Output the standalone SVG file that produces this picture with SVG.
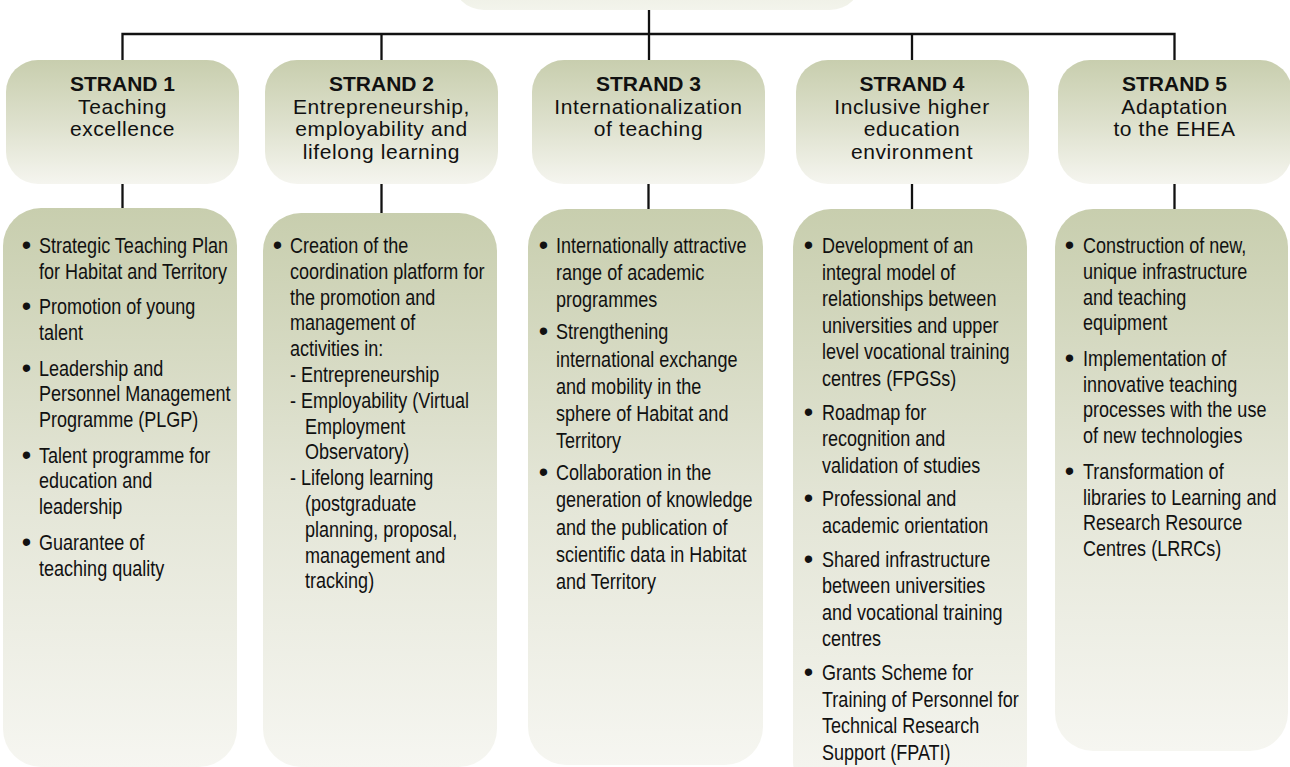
<svg xmlns="http://www.w3.org/2000/svg" width="1290" height="767" viewBox="0 0 1290 767">
<defs>
<linearGradient id="gh" x1="0" y1="0" x2="0" y2="1">
<stop offset="0" stop-color="#c8ceae"/>
<stop offset="0.5" stop-color="#dde0cc"/>
<stop offset="1" stop-color="#f5f5ef"/>
</linearGradient>
<linearGradient id="gd" x1="0" y1="0" x2="0" y2="1">
<stop offset="0" stop-color="#c8ceae"/>
<stop offset="0.5" stop-color="#e3e5d6"/>
<stop offset="1" stop-color="#f6f6f1"/>
</linearGradient>
<linearGradient id="gt" x1="0" y1="0" x2="0" y2="1">
<stop offset="0" stop-color="#dfe2d0"/>
<stop offset="1" stop-color="#f3f4ec"/>
</linearGradient>
</defs>
<style>
.hb{fill:url(#gh)}
.db{fill:url(#gd)}
.ln{stroke:#111;stroke-width:2.3;fill:none}
.h{font-family:"Liberation Sans",Arial,sans-serif;font-size:21px;fill:#111;text-anchor:middle;letter-spacing:0.6px}
.hs{font-family:"Liberation Sans",Arial,sans-serif;font-size:21px;font-weight:bold;fill:#111;text-anchor:middle}
.d{font-family:"Liberation Sans",Arial,sans-serif;font-size:22px;fill:#111}
.b{font-family:"Liberation Sans",Arial,sans-serif;font-size:27px;fill:#111;text-anchor:middle}
</style>
<rect width="1290" height="767" fill="#ffffff"/>
<g id="root"><rect x="452" y="-60" width="410" height="70" rx="32" fill="url(#gt)"/></g>
<g id="connectors">
<path class="ln" d="M649,10V60M122.5,60V34H1174.5V60M381.5,34V60M912,34V60"/>
<path class="ln" d="M122.5,184V209M381.5,184V213M648.5,184V209M912,184V209M1174.5,184V209"/>
</g>
<g id="strand1">
<rect class="hb" x="6" y="60" width="233" height="124" rx="32"/>
<text class="hs" x="122.5" y="91">STRAND 1</text>
<text class="h" x="122.5" y="113.5">Teaching</text>
<text class="h" x="122.5" y="136">excellence</text>
</g>
<g id="strand2">
<rect class="hb" x="265" y="60" width="233" height="124" rx="32"/>
<text class="hs" x="381.5" y="91">STRAND 2</text>
<text class="h" x="381.5" y="113.5">Entrepreneurship,</text>
<text class="h" x="381.5" y="136">employability and</text>
<text class="h" x="381.5" y="158.5">lifelong learning</text>
</g>
<g id="strand3">
<rect class="hb" x="532" y="60" width="233" height="124" rx="32"/>
<text class="hs" x="648.5" y="91">STRAND 3</text>
<text class="h" x="648.5" y="113.5">Internationalization</text>
<text class="h" x="648.5" y="136">of teaching</text>
</g>
<g id="strand4">
<rect class="hb" x="796" y="60" width="233" height="124" rx="32"/>
<text class="hs" x="912" y="91">STRAND 4</text>
<text class="h" x="912" y="113.5">Inclusive higher</text>
<text class="h" x="912" y="136">education</text>
<text class="h" x="912" y="158.5">environment</text>
</g>
<g id="strand5">
<rect class="hb" x="1058" y="60" width="234" height="124" rx="32"/>
<text class="hs" x="1174.5" y="91">STRAND 5</text>
<text class="h" x="1174.5" y="113.5">Adaptation</text>
<text class="h" x="1174.5" y="136">to the EHEA</text>
</g>
<g id="actions1">
<rect class="db" x="3" y="208" width="234" height="559" rx="38"/>
<text class="b" x="26.5" y="254">•</text>
<text class="b" x="26.5" y="315.3">•</text>
<text class="b" x="26.5" y="376.6">•</text>
<text class="b" x="26.5" y="463.7">•</text>
<text class="b" x="26.5" y="550.8">•</text>
<g transform="translate(39,0) scale(0.82,1)">
<text class="d"><tspan x="0" y="253">Strategic Teaching Plan</tspan><tspan x="0" y="278.8">for Habitat and Territory</tspan><tspan x="0" y="314.3">Promotion of young</tspan><tspan x="0" y="340.1">talent</tspan><tspan x="0" y="375.6">Leadership and</tspan><tspan x="0" y="401.4">Personnel Management</tspan><tspan x="0" y="427.2">Programme (PLGP)</tspan><tspan x="0" y="462.7">Talent programme for</tspan><tspan x="0" y="488.5">education and</tspan><tspan x="0" y="514.3">leadership</tspan><tspan x="0" y="549.8">Guarantee of</tspan><tspan x="0" y="575.6">teaching quality</tspan></text>
</g>
</g>
<g id="actions2">
<rect class="db" x="263" y="213" width="234" height="554" rx="38"/>
<text class="b" x="277.5" y="254">•</text>
<g transform="translate(290,0) scale(0.82,1)">
<text class="d"><tspan x="0" y="253">Creation of the</tspan><tspan x="0" y="278.8">coordination platform for</tspan><tspan x="0" y="304.6">the promotion and</tspan><tspan x="0" y="330.4">management of</tspan><tspan x="0" y="356.2">activities in:</tspan><tspan x="0" y="382">- Entrepreneurship</tspan><tspan x="0" y="407.8">- Employability (Virtual</tspan><tspan x="18.3" y="433.6">Employment</tspan><tspan x="18.3" y="459.4">Observatory)</tspan><tspan x="0" y="485.2">- Lifelong learning</tspan><tspan x="18.3" y="511">(postgraduate</tspan><tspan x="18.3" y="536.8">planning, proposal,</tspan><tspan x="18.3" y="562.6">management and</tspan><tspan x="18.3" y="588.4">tracking)</tspan></text>
</g>
</g>
<g id="actions3">
<rect class="db" x="528" y="209" width="235" height="556" rx="38"/>
<text class="b" x="543.5" y="254">•</text>
<text class="b" x="543.5" y="340.4">•</text>
<text class="b" x="543.5" y="481.2">•</text>
<g transform="translate(556,0) scale(0.82,1)">
<text class="d"><tspan x="0" y="253">Internationally attractive</tspan><tspan x="0" y="280.2">range of academic</tspan><tspan x="0" y="307.4">programmes</tspan><tspan x="0" y="339.4">Strengthening</tspan><tspan x="0" y="366.6">international exchange</tspan><tspan x="0" y="393.8">and mobility in the</tspan><tspan x="0" y="421">sphere of Habitat and</tspan><tspan x="0" y="448.2">Territory</tspan><tspan x="0" y="480.2">Collaboration in the</tspan><tspan x="0" y="507.4">generation of knowledge</tspan><tspan x="0" y="534.6">and the publication of</tspan><tspan x="0" y="561.8">scientific data in Habitat</tspan><tspan x="0" y="589">and Territory</tspan></text>
</g>
</g>
<g id="actions4">
<rect class="db" x="793" y="209" width="234" height="590" rx="38"/>
<text class="b" x="808.5" y="254">•</text>
<text class="b" x="808.5" y="420.6">•</text>
<text class="b" x="808.5" y="507.4">•</text>
<text class="b" x="808.5" y="567.6">•</text>
<text class="b" x="808.5" y="681">•</text>
<g transform="translate(822,0) scale(0.82,1)">
<text class="d"><tspan x="0" y="253">Development of an</tspan><tspan x="0" y="279.6">integral model of</tspan><tspan x="0" y="306.2">relationships between</tspan><tspan x="0" y="332.8">universities and upper</tspan><tspan x="0" y="359.4">level vocational training</tspan><tspan x="0" y="386">centres (FPGSs)</tspan><tspan x="0" y="419.6">Roadmap for</tspan><tspan x="0" y="446.2">recognition and</tspan><tspan x="0" y="472.8">validation of studies</tspan><tspan x="0" y="506.4">Professional and</tspan><tspan x="0" y="533">academic orientation</tspan><tspan x="0" y="566.6">Shared infrastructure</tspan><tspan x="0" y="593.2">between universities</tspan><tspan x="0" y="619.8">and vocational training</tspan><tspan x="0" y="646.4">centres</tspan><tspan x="0" y="680">Grants Scheme for</tspan><tspan x="0" y="706.6">Training of Personnel for</tspan><tspan x="0" y="733.2">Technical Research</tspan><tspan x="0" y="759.8">Support (FPATI)</tspan></text>
</g>
</g>
<g id="actions5">
<rect class="db" x="1055" y="209" width="233" height="542" rx="38"/>
<text class="b" x="1069.5" y="254">•</text>
<text class="b" x="1069.5" y="366.9">•</text>
<text class="b" x="1069.5" y="479.8">•</text>
<g transform="translate(1083,0) scale(0.82,1)">
<text class="d"><tspan x="0" y="253">Construction of new,</tspan><tspan x="0" y="278.8">unique infrastructure</tspan><tspan x="0" y="304.6">and teaching</tspan><tspan x="0" y="330.4">equipment</tspan><tspan x="0" y="365.9">Implementation of</tspan><tspan x="0" y="391.7">innovative teaching</tspan><tspan x="0" y="417.5">processes with the use</tspan><tspan x="0" y="443.3">of new technologies</tspan><tspan x="0" y="478.8">Transformation of</tspan><tspan x="0" y="504.6">libraries to Learning and</tspan><tspan x="0" y="530.4">Research Resource</tspan><tspan x="0" y="556.2">Centres (LRRCs)</tspan></text>
</g>
</g>
</svg>
